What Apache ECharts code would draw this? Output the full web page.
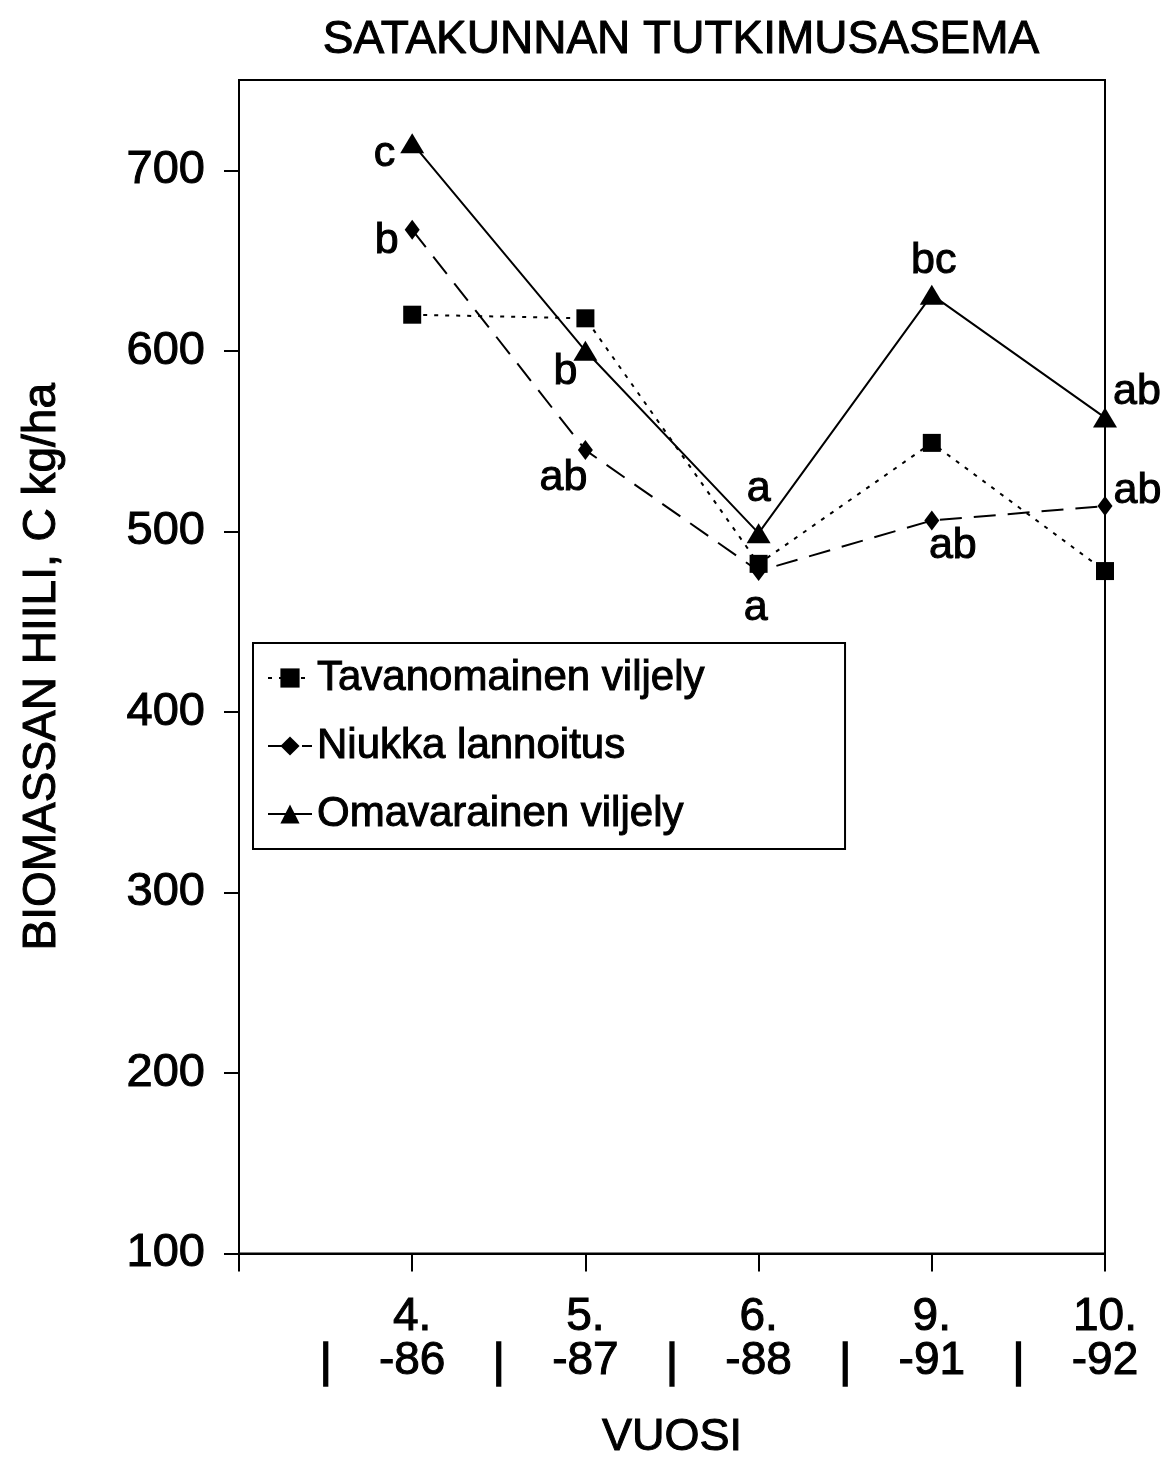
<!DOCTYPE html>
<html>
<head>
<meta charset="utf-8">
<script src="https://cdn.jsdelivr.net/npm/echarts@6/dist/echarts.min.js"></script>
<style>
  html, body { margin: 0; padding: 0; background: #fff; }
  #chart { width: 1168px; height: 1466px; }
</style>
</head>
<body>
<div id="chart"></div>
<script>
// Sampling rounds (month / year) on the x axis
const yearNo  = ['4.', '5.', '6.', '9.', '10.'];
const yearTag = ['-86', '-87', '-88', '-91', '-92'];
// Y axis ticks
const yTicks = [100, 200, 300, 400, 500, 600, 700];

// Microbial biomass carbon, C kg/ha
const tavanomainen = [620, 618, 482, 549, 478];
const niukka       = [667, 545, 478, 506, 514];
const omavarainen  = [715, 600, 499, 631, 563];

// Significance letters
const niukkaLetters = ['b', 'ab', 'a', 'ab', 'ab'];
const omaLetters    = ['c', 'b', 'a', 'bc', 'ab'];

const FONT = "'Liberation Sans', Arial, Helvetica, sans-serif";

// Shared text look: slightly heavier than the regular face
function txt(size, extra) {
  return Object.assign({
    fontFamily: FONT,
    fontSize: size,
    fontWeight: 'normal',
    color: '#000',
    textBorderColor: '#000',
    textBorderWidth: 1
  }, extra || {});
}

// Where each letter sits relative to its marker
const omaPlace = [
  { position: 'left',   distance: 5,  offset: [0, 11] },
  { position: 'left',   distance: 0,  offset: [4, 21] },
  { position: 'top',    distance: 12, offset: [0, 0] },
  { position: 'top',    distance: 2,  offset: [2, 0] },
  { position: 'right',  distance: 0,  offset: [-4, -25] }
];
const niukkaPlace = [
  { position: 'left',   distance: 6,  offset: [0, 11] },
  { position: 'bottom', distance: -4, offset: [-22, 0] },
  { position: 'bottom', distance: 5,  offset: [-3, 0] },
  { position: 'bottom', distance: -6, offset: [21, 0] },
  { position: 'right',  distance: 1,  offset: [0, -15] }
];

function points(values, letters, place) {
  return values.map((v, i) => {
    const p = { value: [i + 1, v] };
    if (letters) {
      p.label = Object.assign(txt(43, { show: true, formatter: letters[i], lineHeight: 44 }), place[i]);
    }
    return p;
  });
}

const chart = echarts.init(document.getElementById('chart'), null, { renderer: 'canvas' });

const option = {
  backgroundColor: '#fff',
  animation: false,
  title: {
    text: 'SATAKUNNAN TUTKIMUSASEMA',
    left: 676,
    textAlign: 'center',
    top: 12,
    textStyle: txt(46)
  },
  grid: {
    left: 239, right: 63, top: 80, bottom: 208,
    show: true, borderColor: '#000', borderWidth: 2, backgroundColor: 'transparent'
  },
  legend: {
    orient: 'vertical',
    left: 253,
    top: 643,
    padding: [12, 140, 12, 14],
    borderColor: '#000',
    borderWidth: 2,
    itemWidth: 44,
    itemHeight: 24,
    itemGap: 22,
    textStyle: txt(42, { lineHeight: 46 }),
    data: ['Tavanomainen viljely', 'Niukka lannoitus', 'Omavarainen viljely']
  },
  xAxis: [
    {
      type: 'value',
      min: 0, max: 5, interval: 1,
      position: 'bottom',
      name: 'VUOSI',
      nameLocation: 'middle',
      nameGap: 162,
      nameTextStyle: txt(45),
      axisLine: { show: true, onZero: false, lineStyle: { color: '#000', width: 2 } },
      axisTick: { show: true, inside: false, length: 18, lineStyle: { color: '#000', width: 2 } },
      splitLine: { show: false },
      axisLabel: Object.assign(txt(46, { lineHeight: 44, margin: 42 }), {
        formatter: v => (Number.isInteger(v) && v >= 1 && v <= yearNo.length)
          ? yearNo[v - 1] + '\n' + yearTag[v - 1] : ''
      })
    },
    {
      // vertical separators between the year labels
      type: 'value',
      min: 0, max: 5, interval: 0.5,
      position: 'bottom',
      axisLine: { show: false },
      axisTick: { show: false },
      splitLine: { show: false },
      axisLabel: Object.assign(txt(46, { lineHeight: 44, margin: 88, textBorderWidth: 1.5 }), {
        formatter: v => (Math.abs(v % 1 - 0.5) < 1e-6 ? '|' : '')
      })
    }
  ],
  yAxis: {
    type: 'value',
    min: 100, max: 750, interval: 100,
    name: 'BIOMASSAN HIILI, C kg/ha',
    nameLocation: 'middle',
    nameRotate: 90,
    nameGap: 174,
    nameTextStyle: txt(46),
    axisLine: { show: true, lineStyle: { color: '#000', width: 2 } },
    axisTick: { show: true, length: 15, customValues: yTicks, lineStyle: { color: '#000', width: 2 } },
    splitLine: { show: false },
    axisLabel: Object.assign(txt(47, { margin: 34 }), { customValues: yTicks })
  },
  series: [
    {
      name: 'Tavanomainen viljely',
      type: 'line',
      xAxisIndex: 0,
      symbol: 'rect',
      symbolSize: 18,
      itemStyle: { color: '#000' },
      lineStyle: { color: '#000', width: 2, type: [4, 7] },
      z: 3,
      data: points(tavanomainen)
    },
    {
      name: 'Niukka lannoitus',
      type: 'line',
      xAxisIndex: 0,
      symbol: 'diamond',
      symbolSize: [15, 20],
      itemStyle: { color: '#000' },
      lineStyle: { color: '#000', width: 2, type: [22, 12] },
      z: 4,
      data: points(niukka, niukkaLetters, niukkaPlace)
    },
    {
      name: 'Omavarainen viljely',
      type: 'line',
      xAxisIndex: 0,
      symbol: 'triangle',
      symbolSize: [24, 20],
      itemStyle: { color: '#000' },
      lineStyle: { color: '#000', width: 2 },
      z: 5,
      data: points(omavarainen, omaLetters, omaPlace)
    }
  ]
};

chart.setOption(option);
</script>
</body>
</html>
